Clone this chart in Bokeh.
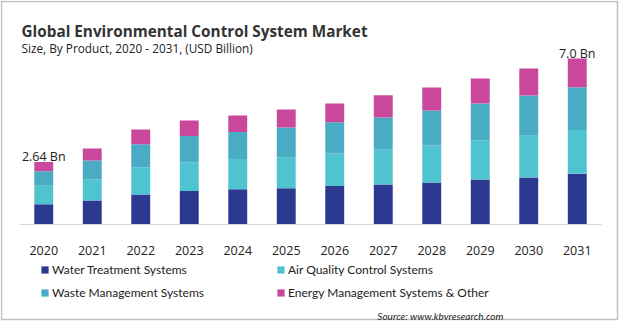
from bokeh.plotting import figure
from bokeh.models import Range1d, Label, BoxAnnotation, Legend, LegendItem, ColumnDataSource
from bokeh.core.properties import value
from bokeh.embed import file_html
from bokeh.resources import INLINE

years = ["2020", "2021", "2022", "2023", "2024", "2025", "2026", "2027", "2028", "2029", "2030", "2031"]
water = [0.85, 1.01, 1.27, 1.41, 1.49, 1.53, 1.62, 1.69, 1.77, 1.90, 1.98, 2.14]
air = [0.78, 0.89, 1.15, 1.22, 1.27, 1.31, 1.38, 1.48, 1.56, 1.65, 1.77, 1.85]
waste = [0.62, 0.80, 0.97, 1.10, 1.14, 1.25, 1.31, 1.35, 1.48, 1.56, 1.69, 1.80]
energy = [0.39, 0.51, 0.62, 0.66, 0.70, 0.76, 0.80, 0.93, 0.97, 1.05, 1.14, 1.21]
series = ["Water Treatment Systems", "Air Quality Control Systems",
          "Waste Management Systems", "Energy Management Systems & Other"]
colors = ["#2b3990", "#4fc4d0", "#4aabc5", "#c9489c"]
end_label_idx = [0, 11]
end_labels_text = ["2.64 Bn", "7.0 Bn"]
end_labels_values = [2.64, 7.0]

FONT = "Open Sans"
FONT2 = "Lato"
W, H = 620, 322
SLOT = 48.5          # px per category
PX_PER_BN = 23.7     # px per billion
LEFT = 19            # plot area left px
BASE = 224           # baseline px from top

n = len(years)
xs = [i + 0.5 for i in range(n)]

p = figure(width=W, height=H,
           x_range=Range1d(-LEFT / SLOT, (W - LEFT) / SLOT),
           y_range=Range1d(-(H - BASE) / PX_PER_BN, BASE / PX_PER_BN),
           output_backend="svg", toolbar_location=None, min_border=0)
p.outline_line_color = None
p.background_fill_color = "white"
p.border_fill_color = "white"
p.xgrid.visible = False
p.ygrid.visible = False
p.xaxis.visible = False
p.yaxis.visible = False

src = ColumnDataSource(dict(x=xs, water=water, air=air, waste=waste, energy=energy))
keys = ["water", "air", "waste", "energy"]
rends = p.vbar_stack(keys, x="x", width=0.39, color=colors, source=src, line_color=None)

# category axis (baseline + labels)
p.segment(x0=[0], x1=[n], y0=[0], y1=[0], line_color="#d9d9d9", line_width=1)
p.text(x=xs, y=[0] * n, text=years, y_offset=26, text_align="center",
       text_baseline="alphabetic", text_font=value(FONT), text_font_size="12.5px",
       text_color="#222222")

p.text(x=[xs[i] for i in end_label_idx], y=end_labels_values, text=end_labels_text, y_offset=-5,
       text_align="center", text_baseline="alphabetic", text_font=value(FONT),
       text_font_size="12.5px", text_color="#222222")

# titles (screen units: x from left, y from bottom)
p.add_layout(Label(x=21, y=H - 30, x_units="screen", y_units="screen",
                   text="Global Environmental Control System Market", text_font=FONT,
                   text_font_size="15.3px", text_font_style="bold", text_color="#333333",
                   text_baseline="alphabetic"))
p.add_layout(Label(x=21, y=H - 47.7, x_units="screen", y_units="screen",
                   text="Size, By Product, 2020 - 2031, (USD Billion)", text_font=FONT,
                   text_font_size="11.8px", text_color="#222222", text_baseline="alphabetic"))
p.add_layout(Label(x=503, y=H - 315, x_units="screen", y_units="screen",
                   text="Source: www.kbvresearch.com", text_font=FONT2, text_align="right",
                   text_font_size="10px", text_font_style="italic", text_color="#222222",
                   text_baseline="alphabetic"))

def mk_legend(idxs, x):
    items = [LegendItem(label=series[i], renderers=[rends[i]]) for i in idxs]
    lg = Legend(items=items, location=(x, H - 302), orientation="vertical",
                glyph_width=9, glyph_height=9, label_height=20, spacing=3,
                label_standoff=3, padding=0, margin=0,
                label_text_font=FONT2, label_text_font_size="12px", label_text_color="#222222",
                border_line_color=None, background_fill_alpha=0)
    p.add_layout(lg, "center")

mk_legend([0, 2], 40)
mk_legend([1, 3], 276)

p.add_layout(BoxAnnotation(left=1, right=617, bottom=H - 319, top=H - 1,
                           left_units="screen", right_units="screen",
                           top_units="screen", bottom_units="screen",
                           fill_alpha=0, line_color="#333333", line_width=1.5))

open("out.html", "w").write(file_html(p, INLINE))
